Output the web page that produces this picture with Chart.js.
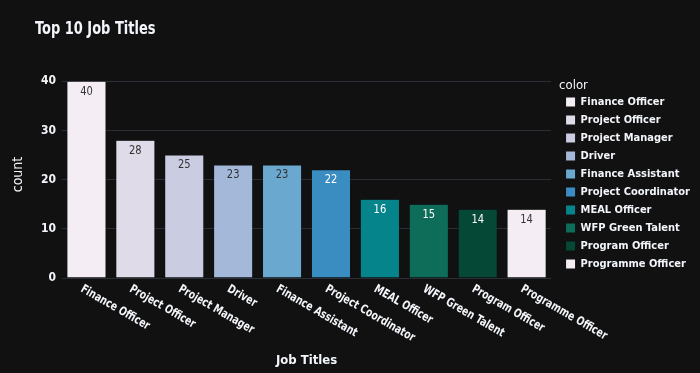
<!DOCTYPE html>
<html>
<head>
<meta charset="utf-8">
<script src="https://cdn.jsdelivr.net/npm/chart.js@4.4.1/dist/chart.umd.min.js"></script>
<style>
  html, body { margin: 0; padding: 0; background: #111111; }
  #wrap { width: 700px; height: 373px; }
</style>
</head>
<body>
<div id="wrap"><canvas id="jobChart"></canvas></div>
<script>
const jobTitles = [
    'Finance Officer', 'Project Officer', 'Project Manager', 'Driver', 'Finance Assistant',
    'Project Coordinator', 'MEAL Officer', 'WFP Green Talent', 'Program Officer', 'Programme Officer'
];
const jobCounts = [40, 28, 25, 23, 23, 22, 16, 15, 14, 14];
const yTicks = [0, 10, 20, 30, 40];

// PuBuGn-ish, wraps round for the 10th bar
const barColors = [
    '#f4eef4', '#e0dbe8', '#cacce2', '#a4b9d9', '#6aa8cf',
    '#3a8dc0', '#06848c', '#0d6d59', '#054836', '#f4eef4'
];

const FONT = '"Liberation Sans Narrow", "DejaVu Sans Condensed", "Liberation Sans", sans-serif';
const TEXT = '#f2f5fa';
const GRID = '#2a2e35';
const NARROW = 0.85; // squeeze hand drawn text a bit, closer to the narrow face of the original

Chart.defaults.font.family = FONT;
Chart.defaults.color = TEXT;

function isLight(hex) {
    const r = parseInt(hex.slice(1, 3), 16), g = parseInt(hex.slice(3, 5), 16), b = parseInt(hex.slice(5, 7), 16);
    return (0.299 * r + 0.587 * g + 0.114 * b) > 140;
}

// title drawn by hand, the built-in one can't sit left of the y axis title
const titlePlugin = {
    id: 'bigTitle',
    afterDraw(chart) {
        const ctx = chart.ctx;
        ctx.save();
        ctx.font = 'bold 17px ' + FONT;
        ctx.fillStyle = TEXT;
        ctx.textAlign = 'left';
        ctx.textBaseline = 'middle';
        ctx.translate(35, 30);
        ctx.scale(NARROW, 1);
        ctx.fillText('Top 10 Job Titles', 0, 0);
        ctx.restore();
    }
};

// numbers inside the top of each bar
const valueLabels = {
    id: 'valueLabels',
    afterDatasetsDraw(chart) {
        const ctx = chart.ctx;
        const meta = chart.getDatasetMeta(0);
        ctx.save();
        ctx.font = '13px ' + FONT;
        ctx.textAlign = 'center';
        ctx.textBaseline = 'middle';
        meta.data.forEach((bar, i) => {
            ctx.save();
            ctx.fillStyle = isLight(barColors[i]) ? '#333333' : '#ffffff';
            ctx.translate(bar.x, bar.y + 10);
            ctx.scale(NARROW, 1);
            ctx.fillText(String(jobCounts[i]), 0, 0);
            ctx.restore();
        });
        ctx.restore();
    }
};

// x tick labels tilted down to the right, starting at the tick
const tiltedTicks = {
    id: 'tiltedTicks',
    afterDraw(chart) {
        const ctx = chart.ctx;
        const xs = chart.scales.x;
        const top = chart.chartArea.bottom + 5;
        ctx.save();
        ctx.font = 'bold 12px ' + FONT;
        ctx.fillStyle = TEXT;
        ctx.textAlign = 'left';
        ctx.textBaseline = 'top';
        jobTitles.forEach((t, i) => {
            ctx.save();
            ctx.translate(xs.getPixelForValue(i) - 2, top);
            ctx.rotate(30 * Math.PI / 180);
            ctx.scale(NARROW, 1);
            ctx.fillText(t, 0, 0);
            ctx.restore();
        });
        ctx.restore();
    }
};

// nudge the legend a little right of the plot edge
const legendShift = {
    id: 'legendShift',
    afterLayout(chart) {
        if (chart.legend) {
            chart.legend.left += 8;
            chart.legend.right += 8;
        }
    }
};

const ctx = document.getElementById('jobChart').getContext('2d');
const chartInstance = new Chart(ctx, {
    type: 'bar',
    data: {
        labels: jobTitles,
        datasets: [{
            label: 'count',
            data: jobCounts,
            backgroundColor: barColors,
            borderColor: '#111111',
            borderWidth: 0.5,
            barPercentage: 0.8,
            categoryPercentage: 1.0
        }]
    },
    options: {
        responsive: true,
        maintainAspectRatio: false,
        devicePixelRatio: 1,
        animation: false,
        layout: { padding: { top: 71, left: 0, right: 8, bottom: 0 } },
        plugins: {
            title: { display: false },
            tooltip: { enabled: false },
            legend: {
                position: 'right',
                align: 'start',
                title: {
                    display: true,
                    text: 'color',
                    position: 'start',
                    color: TEXT,
                    font: { size: 13, lineHeight: 1 },
                    padding: { top: 8.5, bottom: -3 }
                },
                labels: {
                    boxWidth: 9,
                    boxHeight: 9,
                    padding: 7,
                    color: TEXT,
                    font: { size: 11, weight: 'bold' },
                    generateLabels() {
                        return jobTitles.map((t, i) => ({
                            text: t,
                            fillStyle: barColors[i],
                            strokeStyle: barColors[i],
                            lineWidth: 0,
                            hidden: false,
                            index: i,
                            fontColor: TEXT
                        }));
                    }
                }
            }
        },
        scales: {
            x: {
                grid: { display: false, drawTicks: false },
                border: { display: false },
                ticks: { display: false },
                title: {
                    display: true,
                    text: 'Job Titles',
                    color: TEXT,
                    font: { size: 13, weight: 'bold' },
                    padding: { top: 0, bottom: 5 }
                },
                afterFit(scale) { scale.height = 95; }
            },
            y: {
                min: 0,
                max: 42.1,
                afterBuildTicks(scale) { scale.ticks = yTicks.map(v => ({ value: v })); },
                grid: { color: GRID, lineWidth: 1, drawTicks: false },
                border: { display: false },
                ticks: {
                    padding: 6,
                    color: TEXT,
                    font: { size: 12, weight: 'bold' }
                },
                title: {
                    display: true,
                    text: 'count',
                    color: TEXT,
                    font: { size: 14 },
                    padding: { top: 10, bottom: 0 }
                },
                afterFit(scale) { scale.width = 62; }
            }
        }
    },
    plugins: [titlePlugin, valueLabels, tiltedTicks, legendShift]
});
</script>
</body>
</html>
